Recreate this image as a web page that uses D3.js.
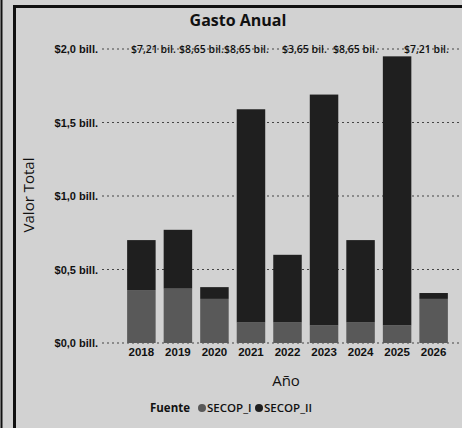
<!DOCTYPE html>
<html>
<head>
<meta charset="utf-8">
<script src="https://cdn.jsdelivr.net/npm/d3@7"></script>
<style>
  html, body { margin: 0; padding: 0; background: #d2d2d2; }
  svg { display: block; font-family: "Open Sans", sans-serif; }
</style>
</head>
<body>
<div id="chart"></div>
<script>
const years = ["2018", "2019", "2020", "2021", "2022", "2023", "2024", "2025", "2026"];
// billions (bill.) per source
const secopI  = [0.36, 0.37, 0.30, 0.14, 0.14, 0.12, 0.14, 0.12, 0.30];
const secopII = [0.34, 0.40, 0.08, 1.45, 0.46, 1.57, 0.56, 1.83, 0.04];
const yTicks = [0, 0.5, 1.0, 1.5, 2.0];
const topLabels = ["$7,21 bil.", "$8,65 bil.", "$8,65 bil.", "$3,65 bil.", "$8,65 bil.", "$7,21 bil."];
const topLabelX = [131, 179, 224, 282, 333, 404];
const seriesNames = ["SECOP_I", "SECOP_II"];
const colors = ["#595959", "#1f1f1f"];

const W = 462, H = 428;
const svg = d3.select("#chart").append("svg")
    .attr("width", W)
    .attr("height", H);

const x = d3.scaleBand()
    .domain(years)
    .range([118, 457])
    .paddingInner(0.22)
    .paddingOuter(0.25);

const y = d3.scaleLinear()
    .domain([0, 2])
    .range([343, 49]);

// frame
svg.append("line").attr("x1", 1.5).attr("x2", 1.5).attr("y1", 0).attr("y2", H)
    .attr("stroke", "#111").attr("stroke-width", 2);
svg.append("line").attr("x1", 14.5).attr("x2", 14.5).attr("y1", 6).attr("y2", H)
    .attr("stroke", "#111").attr("stroke-width", 3);
svg.append("line").attr("x1", 13).attr("x2", W).attr("y1", 6.5).attr("y2", 6.5)
    .attr("stroke", "#111").attr("stroke-width", 3);

// title
svg.append("text")
    .attr("x", 238).attr("y", 26)
    .attr("text-anchor", "middle")
    .style("font-size", "16px").style("font-weight", "bold")
    .attr("fill", "#111")
    .text("Gasto Anual");

// grid + y axis
const yAxis = svg.append("g")
    .attr("transform", "translate(100,0)")
    .call(d3.axisLeft(y).tickValues(yTicks).tickSize(0).tickPadding(2)
        .tickFormat(d => "$" + d3.format(".1f")(d).replace(".", ",") + " bill."));
yAxis.select(".domain").remove();
yAxis.selectAll("text")
    .style("font-size", "11px").style("font-weight", "600")
    .attr("fill", "#111");

svg.append("g").selectAll("line")
    .data(yTicks)
    .join("line")
    .attr("x1", 102).attr("x2", W)
    .attr("y1", d => y(d)).attr("y2", d => y(d))
    .attr("stroke", "#444")
    .attr("stroke-width", 1.2)
    .attr("stroke-dasharray", "2,3");

// stacked bars
const table = years.map((yr, i) => ({ year: yr, SECOP_I: secopI[i], SECOP_II: secopII[i] }));
const stack = d3.stack().keys(seriesNames)(table);

svg.append("g").selectAll("g")
    .data(stack)
    .join("g")
    .attr("fill", (d, i) => colors[i])
    .selectAll("rect")
    .data(d => d)
    .join("rect")
    .attr("x", d => x(d.data.year))
    .attr("width", x.bandwidth())
    .attr("y", d => y(d[1]))
    .attr("height", d => y(d[0]) - y(d[1]));

// labels row at the top
svg.append("g").selectAll("text")
    .data(topLabels)
    .join("text")
    .attr("x", (d, i) => topLabelX[i])
    .attr("y", y(2) + 4)
    .style("font-size", "10.5px").style("font-weight", "600")
    .attr("fill", "#111")
    .text(d => d);

// x axis
const xAxis = svg.append("g")
    .attr("transform", "translate(0,343)")
    .call(d3.axisBottom(x).tickSize(0).tickPadding(5));
xAxis.select(".domain").remove();
xAxis.selectAll("text")
    .style("font-size", "11.5px").style("font-weight", "600")
    .attr("fill", "#111");

// axis titles
svg.append("text")
    .attr("x", 286).attr("y", 386)
    .attr("text-anchor", "middle")
    .style("font-size", "15px")
    .attr("fill", "#111")
    .text("Año");

svg.append("text")
    .attr("transform", "translate(34,195) rotate(-90)")
    .attr("text-anchor", "middle")
    .style("font-size", "15px")
    .attr("fill", "#111")
    .text("Valor Total");

// legend
const legend = svg.append("g").attr("transform", "translate(150,412)");
legend.append("text")
    .attr("x", 0).attr("y", 0)
    .style("font-size", "11.5px").style("font-weight", "bold")
    .attr("fill", "#111")
    .text("Fuente");
const legendX = [52, 109];
seriesNames.forEach((name, i) => {
    legend.append("circle")
        .attr("cx", legendX[i]).attr("cy", -4)
        .attr("r", 4)
        .attr("fill", colors[i]);
    legend.append("text")
        .attr("x", legendX[i] + 5).attr("y", 0)
        .style("font-size", "11.5px").style("font-weight", "600")
        .attr("fill", "#111")
        .text(name);
});
</script>
</body>
</html>
